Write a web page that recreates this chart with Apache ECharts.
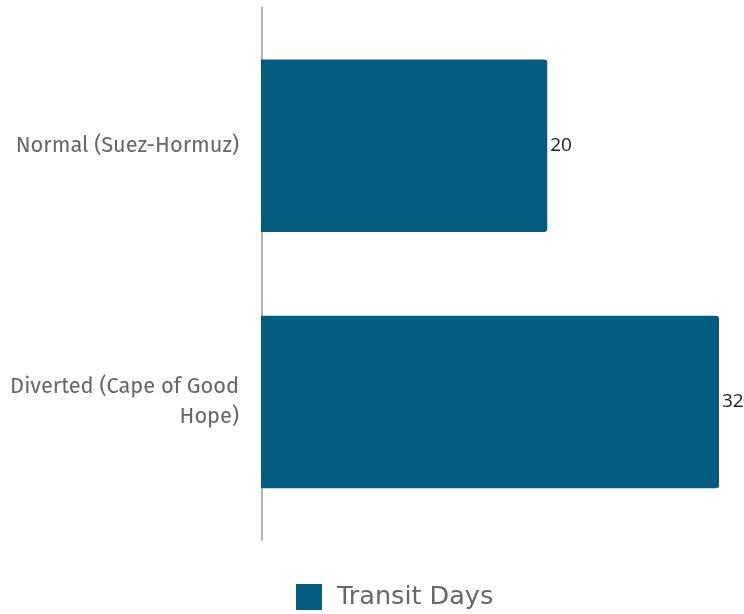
<!DOCTYPE html>
<html>
<head>
<meta charset="utf-8">
<script src="https://cdn.jsdelivr.net/npm/echarts@6/dist/echarts.min.js"></script>
<style>
  html, body { margin: 0; padding: 0; background: #ffffff; }
  #chart { width: 744px; height: 614px; }
</style>
</head>
<body>
<div id="chart"></div>
<script>
// Shipping route transit times
const routes = ['Normal (Suez-Hormuz)', 'Diverted (Cape of Good Hope)'];
const transitDays = [20, 32];
const seriesName = 'Transit Days';

const barColor = '#045d81';

// Greedy word wrap for long category names (no trailing spaces on lines)
function wrapLabel(text, maxChars) {
  const words = text.split(' ');
  const lines = [];
  let line = '';
  words.forEach(function (w) {
    const next = line ? line + ' ' + w : w;
    if (next.length > maxChars && line) {
      lines.push(line);
      line = w;
    } else {
      line = next;
    }
  });
  if (line) lines.push(line);
  return lines.join('\n');
}

const chart = echarts.init(document.getElementById('chart'), null, { renderer: 'canvas' });

chart.setOption({
  animation: false,
  backgroundColor: '#ffffff',
  grid: [
    // bar area
    { left: 261, right: 25, top: 17.7, bottom: 83.9, containLabel: false, outerBoundsMode: 'none' },
    // taller frame that only carries the vertical axis line
    { left: 261.5, right: 25, top: 7.5, bottom: 74, containLabel: false, outerBoundsMode: 'none' }
  ],
  legend: {
    data: [seriesName],
    left: 296,
    top: 584,
    padding: 0,
    itemWidth: 26,
    itemHeight: 26,
    itemGap: 10,
    icon: 'rect',
    formatter: '{t|{name}}',
    textStyle: {
      rich: {
        t: {
          fontFamily: 'DejaVu Sans',
          fontSize: 25.5,
          color: '#666666',
          padding: [0, 0, 0, 10]
        }
      }
    }
  },
  xAxis: [
    { type: 'value', gridIndex: 0, min: 0, max: 32, show: false },
    { type: 'value', gridIndex: 1, min: 0, max: 1, show: false }
  ],
  yAxis: [
    {
      type: 'category',
      gridIndex: 0,
      inverse: true,
      data: routes,
      axisLine: { show: false },
      axisTick: { show: false },
      splitLine: { show: false },
      axisLabel: {
        margin: 22,
        fontFamily: 'Fira Sans, Open Sans, sans-serif',
        fontSize: 21.8,
        color: '#666666',
        lineHeight: 30,
        align: 'right',
        formatter: function (v) { return wrapLabel(v, 22); }
      }
    },
    {
      type: 'value',
      gridIndex: 1,
      min: 0,
      max: 1,
      axisLine: { show: true, lineStyle: { color: '#9a9a9a', width: 1.5 } },
      axisTick: { show: false },
      axisLabel: { show: false },
      splitLine: { show: false }
    }
  ],
  series: [
    {
      name: seriesName,
      type: 'bar',
      xAxisIndex: 0,
      yAxisIndex: 0,
      data: transitDays,
      barCategoryGap: '32.7%',
      itemStyle: { color: barColor, borderRadius: [0, 3, 3, 0] },
      label: {
        show: true,
        position: 'right',
        distance: 3,
        fontFamily: 'Open Sans',
        fontSize: 19,
        color: '#222222'
      }
    }
  ]
});
</script>
</body>
</html>
